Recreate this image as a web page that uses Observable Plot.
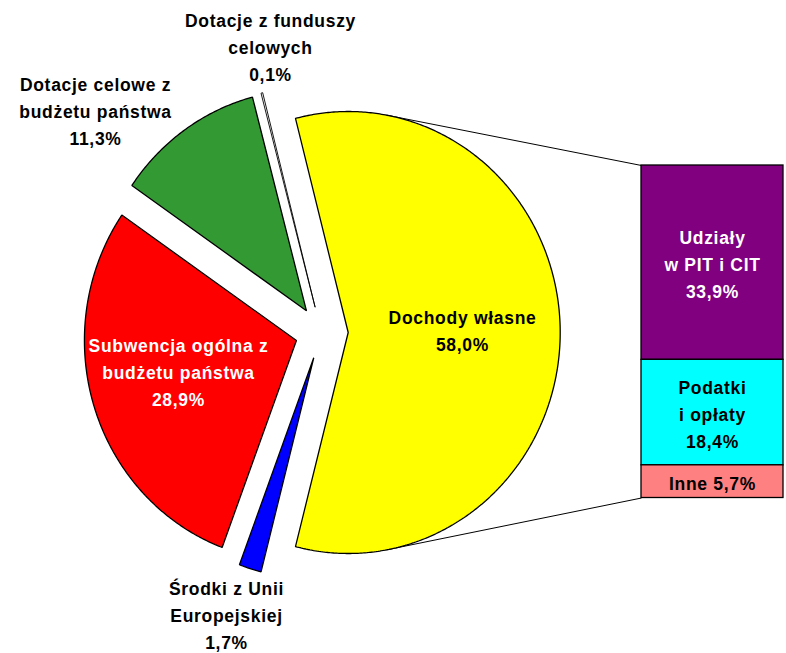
<!DOCTYPE html>
<html><head><meta charset="utf-8">
<script src="https://cdn.jsdelivr.net/npm/d3@7"></script>
<script src="https://cdn.jsdelivr.net/npm/@observablehq/plot@0.6"></script>
<style>body{margin:0;background:#fff} svg{display:block}</style>
</head><body><div id="chart"></div>
<script>
// ---- data ----
const pieCategories = ["Dochody własne", "Środki z Unii Europejskiej", "Subwencja ogólna z budżetu państwa", "Dotacje celowe z budżetu państwa", "Dotacje z funduszy celowych"];
const pieValues = [58.0, 1.7, 28.9, 11.3, 0.1];
const pieLabelText = ["Dochody własne", "Środki z Unii\nEuropejskiej", "Subwencja ogólna z\nbudżetu państwa", "Dotacje celowe z\nbudżetu państwa", "Dotacje z funduszy\ncelowych"];
const barCategories = ["Udziały w PIT i CIT", "Podatki i opłaty", "Inne"];
const barValues = [33.9, 18.4, 5.7];
const barLabelText = ["Udziały\nw PIT i CIT\n", "Podatki\ni opłaty\n", "Inne "];
// ---- styles ----
const pieColors = ["#FFFF00", "#0000FF", "#FF0000", "#339933", "#FFFFFF"];
const barColors = ["#800080", "#00FFFF", "#FF8080"];
const pieInk = ["black", "black", "white", "black", "black"];
const barInk = ["white", "black", "black"];
// ---- layout ----
const W = 786, H = 653;
const cx = 321.2, cy = 332, rx = 212, ry = 221, explode = 26.5;
const pieLabelPos = [[462, 328], [226, 613], [178, 370], [95, 109], [270, 45]];
const barX1 = 641, barX2 = 783, barTop = 165, barBottom = 497.5;

const fmt = v => v.toFixed(1).replace(".", ",") + "%";
const rad = Math.PI / 180;
const total = d3.sum(pieValues);
let acc = 90 - pieValues[0] / total * 180;
const slices = pieValues.map((v, i) => {
  const a0 = acc, a1 = acc + v / total * 360; acc = a1;
  const mid = (a0 + a1) / 2;
  return {i, a0, a1, ox: cx + explode * Math.sin(mid * rad), oy: cy - explode * Math.cos(mid * rad)};
});
const pieRows = [];
slices.forEach(s => {
  const name = pieCategories[s.i];
  pieRows.push({name, x: s.ox, y: s.oy});
  const n = Math.max(2, Math.ceil((s.a1 - s.a0) / 0.5));
  for (let k = 0; k <= n; k++) {
    const a = (s.a0 + (s.a1 - s.a0) * k / n) * rad;
    pieRows.push({name, x: s.ox + rx * Math.sin(a), y: s.oy - ry * Math.cos(a)});
  }
});

const barTotal = d3.sum(barValues);
let bacc = 0;
const barRows = barValues.map((v, i) => {
  const y1 = barTop + bacc / barTotal * (barBottom - barTop);
  bacc += v;
  const y2 = barTop + bacc / barTotal * (barBottom - barTop);
  return {name: barCategories[i], y1, y2, label: barLabelText[i] + fmt(v), ink: barInk[i], ym: (y1 + y2) / 2};
});

// connector lines: tangent from bar corners to the exploded main slice
const main = slices[0];
function tangent(px, py, sign) {
  const ux = (px - main.ox) / rx, uy = (py - main.oy) / ry;
  const d = Math.hypot(ux, uy), th = Math.atan2(uy, ux), off = Math.acos(1 / d);
  const t = th + sign * off;
  return [main.ox + rx * Math.cos(t), main.oy + ry * Math.sin(t)];
}
const tTop = tangent(barX1, barTop, -1), tBot = tangent(barX1, barBottom, 1);
const connectors = [
  {x1: tTop[0], y1: tTop[1], x2: barX1, y2: barTop},
  {x1: tBot[0], y1: tBot[1], x2: barX1, y2: barBottom}
];

const pieLabels = pieValues.map((v, i) => ({
  x: pieLabelPos[i][0], y: pieLabelPos[i][1],
  text: pieLabelText[i] + "\n" + fmt(v), ink: pieInk[i]
}));
const barLabels = barRows.map(r => ({x: (barX1 + barX2) / 2, y: r.ym, text: r.label, ink: r.ink}));
const allLabels = pieLabels.concat(barLabels);

const textOpts = {x: "x", y: "y", text: "text", lineAnchor: "middle", textAnchor: "middle", lineHeight: 1.55, fontSize: 17.5, fontWeight: "bold"};

const smallName = pieCategories[4];
const chart = Plot.plot({
  width: W, height: H, margin: 0,
  x: {domain: [0, W], axis: null},
  y: {domain: [H, 0], axis: null},
  color: {domain: pieCategories.concat(barCategories), range: pieColors.concat(barColors)},
  style: {fontFamily: "'Liberation Sans', Arial, sans-serif", letterSpacing: "0.7px", background: "white"},
  marks: [
    Plot.link(connectors, {x1: "x1", y1: "y1", x2: "x2", y2: "y2", stroke: "black", strokeWidth: 1}),
    Plot.line(pieRows.filter(d => d.name !== smallName), {x: "x", y: "y", z: "name", fill: "name", stroke: "black", strokeWidth: 1.3, curve: "linear-closed", strokeLinejoin: "miter"}),
    Plot.line(pieRows.filter(d => d.name === smallName), {x: "x", y: "y", z: "name", fill: "name", stroke: "black", strokeWidth: 0.9, curve: "linear-closed", strokeLinejoin: "miter"}),
    Plot.rect(barRows, {x1: () => barX1, x2: () => barX2, y1: "y1", y2: "y2", fill: "name", stroke: "black", strokeWidth: 1.3}),
    Plot.text(allLabels.filter(d => d.ink === "black"), {...textOpts, fill: "black"}),
    Plot.text(allLabels.filter(d => d.ink === "white"), {...textOpts, fill: "white"})
  ]
});
document.getElementById("chart").appendChild(chart);
</script>
</body></html>
